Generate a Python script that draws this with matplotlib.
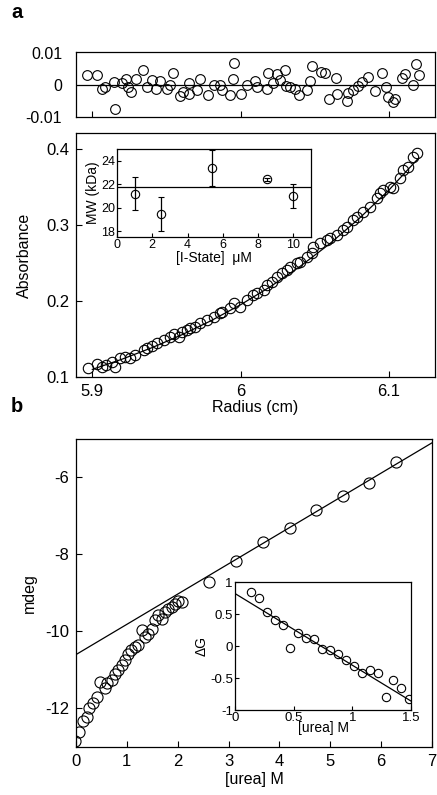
import numpy as np
import matplotlib.pyplot as plt

plt.rcParams['font.family'] = ['Liberation Sans', 'DejaVu Sans']
plt.rcParams['axes.unicode_minus'] = False
plt.rcParams['axes.linewidth'] = 0.9

# 패널 a: 잔차
res_r = [5.8964, 5.9031, 5.9065, 5.9088, 5.9144, 5.9155, 5.9200, 5.9229, 5.9238, 5.9260,
         5.9296, 5.9341, 5.9368, 5.9402, 5.9431, 5.9453, 5.9503, 5.9525, 5.9543, 5.9593,
         5.9611, 5.9649, 5.9655, 5.9705, 5.9727, 5.9777, 5.9817, 5.9862, 5.9873, 5.9929,
         5.9947, 5.9958, 6.0001, 6.0042, 6.0098, 6.0113, 6.0176, 6.0187, 6.0221, 6.0244,
         6.0262, 6.0300, 6.0306, 6.0333, 6.0367, 6.0396, 6.0446, 6.0468, 6.0479, 6.0540,
         6.0569, 6.0598, 6.0643, 6.0652, 6.0715, 6.0726, 6.0760, 6.0794, 6.0816, 6.0861,
         6.0906, 6.0951, 6.0980, 6.0996, 6.1029, 6.1040, 6.1085, 6.1108, 6.1164, 6.1182,
         6.1204]
res_v = [0.00303, 0.00303, -0.00131, -0.00071, 0.00101, -0.00758, 0.00071, 0.00182, -0.00071, -0.00232,
         0.00172, 0.00455, -0.00071, 0.00152, -0.00131, 0.00131, -0.00131, 0.0, 0.00374, -0.00354,
         -0.00232, -0.00273, 0.00051, -0.00172, 0.00172, -0.00303, 0.0, 0.0, -0.00152, -0.00303,
         0.00172, 0.00677, -0.00273, 0.0, 0.00131, -0.00071, -0.00131, 0.00374, 0.00051, 0.00333,
         0.00152, 0.00475, -0.00030, -0.00071, -0.00131, -0.00303, -0.00172, 0.00131, 0.00586, 0.00404,
         0.00374, -0.00434, 0.00202, -0.00273, -0.00505, -0.00253, -0.00152, -0.00030, 0.00101, 0.00232,
         -0.00202, 0.00374, -0.00071, -0.00374, -0.00535, -0.00434, 0.00202, 0.00333, 0.0, 0.00657,
         0.00303]

# 패널 a: 흡광도
abs_r = [5.8969, 5.9031, 5.9065, 5.9090, 5.9132, 5.9155, 5.9189, 5.9222, 5.9256, 5.9290,
         5.9346, 5.9368, 5.9402, 5.9435, 5.9480, 5.9525, 5.9548, 5.9581, 5.9604, 5.9637,
         5.9660, 5.9694, 5.9727, 5.9772, 5.9817, 5.9862, 5.9873, 5.9929, 5.9952, 5.9997,
         6.0042, 6.0086, 6.0109, 6.0154, 6.0176, 6.0210, 6.0244, 6.0277, 6.0311, 6.0333,
         6.0378, 6.0401, 6.0446, 6.0479, 6.0490, 6.0535, 6.0580, 6.0603, 6.0648, 6.0692,
         6.0715, 6.0760, 6.0782, 6.0827, 6.0872, 6.0917, 6.0939, 6.0962, 6.1007, 6.1029,
         6.1074, 6.1097, 6.1130, 6.1164, 6.1186]
abs_v = [0.1123, 0.1171, 0.1136, 0.1158, 0.1202, 0.1127, 0.1246, 0.1268, 0.1246, 0.1289,
         0.1355, 0.1386, 0.1412, 0.1443, 0.1487, 0.1531, 0.1566, 0.1531, 0.1596, 0.1618,
         0.1640, 0.1662, 0.1706, 0.1750, 0.1794, 0.1838, 0.1860, 0.1904, 0.1969, 0.1925,
         0.2013, 0.2079, 0.2101, 0.2145, 0.2211, 0.2254, 0.2320, 0.2364, 0.2408, 0.2452,
         0.2496, 0.2518, 0.2583, 0.2627, 0.2715, 0.2759, 0.2803, 0.2825, 0.2868, 0.2934,
         0.2978, 0.3066, 0.3110, 0.3175, 0.3241, 0.3351, 0.3417, 0.3461, 0.3504, 0.3482,
         0.3614, 0.3724, 0.3768, 0.3899, 0.3943]
fit_r = [5.90, 5.92, 5.94, 5.96, 5.98, 6.00, 6.02, 6.04, 6.06, 6.08, 6.10, 6.12]
fit_a = [0.1100, 0.1234, 0.1384, 0.1552, 0.1740, 0.1951, 0.2188, 0.2454, 0.2752, 0.3087, 0.3461, 0.3881]

# 인셋 a: 분자량
conc = [1, 2.5, 5.4, 8.5, 10]
mw = [21.2, 19.5, 23.4, 22.4, 21.0]
mw_err = [1.4, 1.45, 1.55, 0.1, 1.0]
mw_mean = 21.8

# 패널 b: CD 신호
urea = [-0.02, 0.065, 0.144, 0.223, 0.262, 0.34, 0.406, 0.47, 0.57, 0.60,
        0.70, 0.77, 0.83, 0.90, 0.96, 1.03, 1.09, 1.16, 1.22, 1.29,
        1.36, 1.42, 1.49, 1.55, 1.62, 1.70, 1.75, 1.81, 1.88, 1.94,
        2.01, 2.08, 2.62, 3.14, 3.68, 4.20, 4.72, 5.25, 5.76, 6.30]
mdeg = [-12.85, -12.61, -12.33, -12.22, -12.0, -11.87, -11.70, -11.31, -11.48, -11.35,
        -11.27, -11.10, -11.01, -10.88, -10.75, -10.58, -10.49, -10.40, -10.36, -9.97,
        -10.15, -10.06, -9.93, -9.71, -9.58, -9.67, -9.50, -9.41, -9.37, -9.28,
        -9.20, -9.24, -8.72, -8.18, -7.68, -7.30, -6.84, -6.47, -6.13, -5.59]
line_u = [0, 7]
line_m = [-10.6, -5.1]

# 인셋 b: ΔG
dg_u = [0.134, 0.205, 0.270, 0.339, 0.407, 0.470, 0.538, 0.606, 0.675, 0.743,
        0.811, 0.874, 0.942, 1.011, 1.079, 1.147, 1.215, 1.284, 1.346, 1.415, 1.483]
dg = [0.844, 0.751, 0.527, 0.403, 0.325, -0.029, 0.205, 0.127, 0.112, -0.039,
      -0.065, -0.132, -0.221, -0.314, -0.429, -0.377, -0.429, -0.792, -0.538, -0.652, -0.834]
dg_line_u = [0, 1.5]
dg_line = [0.82, -0.86]

mk = dict(marker='o', ls='none', mfc='none', mec='black', mew=0.8)

fig = plt.figure(figsize=(4.37, 7.95), dpi=100)

# 잔차 그래프
ax_r = fig.add_axes([0.1739, 0.8528, 0.8215, 0.0818])
ax_r.plot(res_r, res_v, ms=7, **mk)
ax_r.axhline(0, color='black', lw=0.9)
ax_r.set_xlim(5.889, 6.131)
ax_r.set_ylim(-0.0098, 0.0102)
ax_r.set_xticks([5.9, 6.0, 6.1])
ax_r.set_xticklabels([])
ax_r.set_yticks([-0.01, 0, 0.01])
ax_r.set_yticklabels(['-0.01', '0', '0.01'])
ax_r.tick_params(direction='in', labelsize=11.5, length=4, width=0.8)
ax_r.tick_params(axis='y', length=0, pad=10)

# 흡광도 그래프
ax_a = fig.add_axes([0.1739, 0.5258, 0.8215, 0.3069])
ax_a.plot(abs_r, abs_v, ms=7.5, **mk)
ax_a.plot(fit_r, fit_a, color='black', lw=0.9)
ax_a.set_xlim(5.889, 6.131)
ax_a.set_ylim(0.1, 0.421)
ax_a.set_xticks([5.9, 6.0, 6.1])
ax_a.set_xticklabels(['5.9', '6', '6.1'])
ax_a.set_yticks([0.1, 0.2, 0.3, 0.4])
ax_a.set_yticklabels(['0.1', '0.2', '0.3', '0.4'])
ax_a.tick_params(direction='in', labelsize=12, length=4, width=0.8, pad=5)
ax_a.set_xlabel('Radius (cm)', fontsize=11.5, labelpad=1)
ax_a.set_ylabel('Absorbance', fontsize=11.5, labelpad=10)

# 인셋 a
ax_i = fig.add_axes([0.2677, 0.7019, 0.4439, 0.1107])
ax_i.errorbar(conc, mw, yerr=mw_err, fmt='o', ms=6, mfc='none', mec='black',
              ecolor='black', elinewidth=0.9, capsize=2.5, mew=0.8)
ax_i.axhline(mw_mean, color='black', lw=0.9)
ax_i.set_xlim(0, 11)
ax_i.set_ylim(17.5, 25)
ax_i.set_xticks([0, 2, 4, 6, 8, 10])
ax_i.set_yticks([18, 20, 22, 24])
ax_i.tick_params(direction='in', labelsize=9, length=3, width=0.8, pad=1.5)
ax_i.set_xlabel('[I-State]  \u03bcM', fontsize=10, labelpad=0)
ax_i.set_ylabel('MW (kDa)', fontsize=10, labelpad=1)

# 패널 b
ax_b = fig.add_axes([0.1739, 0.0604, 0.8146, 0.3874])
ax_b.plot(urea, mdeg, ms=8, **mk)
ax_b.plot(line_u, line_m, color='black', lw=0.9)
ax_b.set_xlim(0, 7)
ax_b.set_ylim(-13, -5)
ax_b.set_xticks(range(0, 8))
ax_b.set_yticks([-12, -10, -8, -6])
ax_b.tick_params(direction='in', labelsize=12, length=4, width=0.8, pad=5)
ax_b.set_xlabel('[urea] M', fontsize=11.5, labelpad=2)
ax_b.set_ylabel('mdeg', fontsize=11.5, labelpad=6)
ax_b.patch.set_alpha(0)

# 인셋 b
ax_j = fig.add_axes([0.5378, 0.1069, 0.4027, 0.161])
ax_j.plot(dg_u, dg, ms=6, **mk)
ax_j.plot(dg_line_u, dg_line, color='black', lw=0.9)
ax_j.set_xlim(0, 1.5)
ax_j.set_ylim(-1, 1)
ax_j.set_xticks([0, 0.5, 1, 1.5])
ax_j.set_xticklabels(['0', '0.5', '1', '1.5'])
ax_j.set_yticks([-1, -0.5, 0, 0.5, 1])
ax_j.set_yticklabels(['-1', '-0.5', '0', '0.5', '1'])
ax_j.tick_params(direction='in', labelsize=9.5, length=3, width=0.8, pad=1.5)
ax_j.set_xlabel('[urea] M', fontsize=10, labelpad=-2)
ax_j.set_ylabel('\u0394G', fontsize=10, labelpad=1)

# 패널 글자
fig.text(0.025, 0.984, 'a', fontsize=14.5, fontweight='heavy', va='center')
fig.text(0.025, 0.489, 'b', fontsize=14.5, fontweight='heavy', va='center')

fig.savefig('out.png', dpi=100)
